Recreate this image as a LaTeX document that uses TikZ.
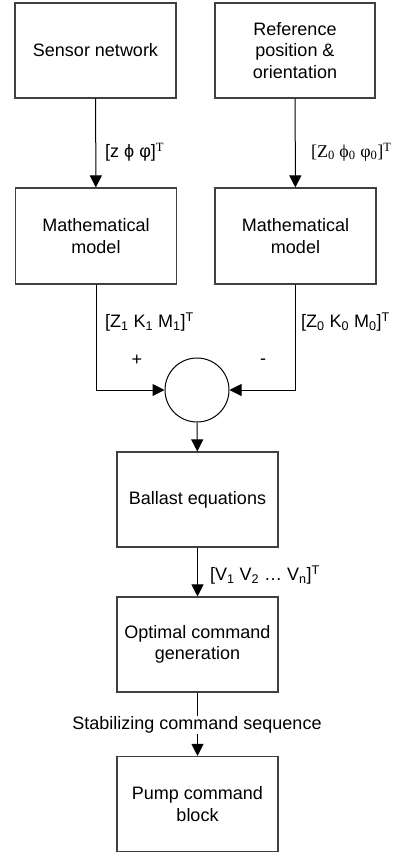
\documentclass[tikz,border=0pt]{standalone}
\usepackage{fontspec}
\setmainfont{Liberation Sans}
\newfontfamily\serifgreek{Liberation Serif}
\usetikzlibrary{arrows.meta,positioning}
\definecolor{Edge}{HTML}{404040}
\tikzset{
  blockbox/.style={draw=Edge, line width=1.1pt, rectangle, minimum width=161pt, minimum height=95pt, align=center, inner sep=2pt, font=\fontsize{18}{21.6}\selectfont},
  sumcircle/.style={circle, draw=black, line width=1pt, minimum size=64pt, inner sep=0pt},
  flowarrow/.style={-{Triangle[length=12pt,width=12pt]}, line width=1pt, draw=black},
  siglabel/.style={anchor=west, inner sep=0pt, font=\fontsize{18}{21.6}\selectfont},
}
\begin{document}
\begin{tikzpicture}[x=1pt,y=-1pt]
\path[use as bounding box] (0,0) rectangle (394,853);

% sources
\node[blockbox] (sensor) at (95.5,50.5) {Sensor network};
\node[blockbox,minimum width=160pt] (ref) at (295,50.5) {Reference\\position \&\\orientation};
% models
\node[blockbox,minimum height=96pt] (model1) at (96,236) {Mathematical\\model};
\node[blockbox,minimum height=96pt] (model2) at (295.5,236) {Mathematical\\model};
% comparator and chain
\node[sumcircle] (sum) at (197,390) {};
\node[blockbox] (ballast) at (197.5,499.5) {Ballast equations};
\node[blockbox] (optimal) at (197.5,644.5) {Optimal command\\generation};
\node[blockbox] (pump) at (197.5,804) {Pump command\\block};

\draw[flowarrow] (sensor) -- (model1);
\draw[flowarrow] (ref) -- (model2);
\draw[flowarrow] (model1.south) |- (sum.west);
\draw[flowarrow] (model2.south) |- (sum.east);
\draw[flowarrow] (sum) -- (ballast);
\draw[flowarrow] (ballast) -- (optimal);
\draw[flowarrow] (optimal) -- (pump);

% signal labels
\node[siglabel] (meas) at (105,152) {[z ϕ φ]\textsuperscript{\serifgreek T}};
\node[siglabel,font=\fontsize{18}{21.6}\selectfont\serifgreek] (refsig) at (311,152) {[Z\textsubscript{0} ϕ\textsubscript{0} φ\textsubscript{0}]\textsuperscript{T}};
\node[siglabel] (state1) at (105,322) {[Z\textsubscript{1} K\textsubscript{1} M\textsubscript{1}]\textsuperscript{T}};
\node[siglabel] (state0) at (301,322) {[Z\textsubscript{0} K\textsubscript{0} M\textsubscript{0}]\textsuperscript{T}};
\node[siglabel,anchor=center] (plus) at (137,360) {+};
\node[siglabel,anchor=center] (minus) at (263,362) {-};
\node[siglabel] (vols) at (210,575) {[V\textsubscript{1} V\textsubscript{2} … V\textsubscript{n}]\textsuperscript{T}};
\node[siglabel,anchor=center,fill=white,inner sep=1pt] (stab) at (197,725) {Stabilizing command sequence};
\end{tikzpicture}
\end{document}
